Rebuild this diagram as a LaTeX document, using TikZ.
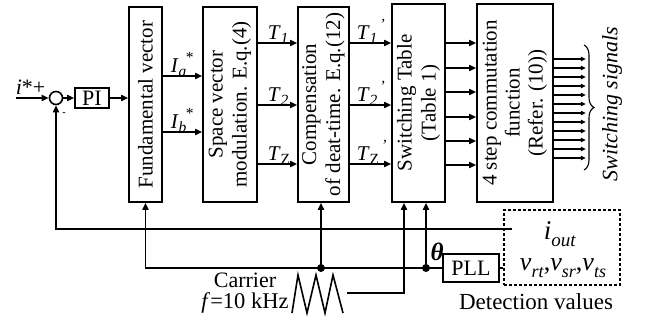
\documentclass[tikz,border=0pt]{standalone}
\usepackage{fontspec}
\setmainfont{Liberation Serif}
\usetikzlibrary{arrows.meta,decorations.pathreplacing}
\newcommand{\sbs}[1]{\raisebox{-0.22em}{\fontsize{15.5}{15.5}\selectfont #1}}
\newcommand{\sps}[1]{\raisebox{0.45em}{\fontsize{15.5}{15.5}\selectfont #1}}
\newcommand{\subsup}[3]{#1\sbs{#2}\kern-0.5pt\sps{#3}}
\begin{document}
\begin{tikzpicture}[x=1pt,y=-1pt,line width=1.6pt,
  font=\fontsize{21}{24}\selectfont,
  blk/.style={draw,inner sep=0pt},
  txt/.style={inner sep=0pt},
  arr/.style={-{Triangle[length=7pt,width=6pt]}},
  arrs/.style={-{Triangle[length=5pt,width=4.5pt]}},
  dot/.style={circle,fill,inner sep=0pt,minimum size=8pt}]
\useasboundingbox (0,0) rectangle (649,327);
% blocks
\node[blk,minimum width=33,minimum height=195] (fv) at (145.5,104.5) {};
\node[txt,rotate=90,align=center] at (fv) {Fundamental vector};
\node[blk,minimum width=54,minimum height=195] (sv) at (230,104.5) {};
\node[txt,rotate=90,align=center] at (sv) {Space vector\\modulation. E.q.(4)};
\node[blk,minimum width=51,minimum height=195] (cp) at (323.5,104.5) {};
\node[txt,rotate=90,align=center] at (cp) {Compensation\\of deat-time. E.q.(12)};
\node[blk,minimum width=53,minimum height=198] (st) at (418.5,103) {};
\node[txt,rotate=90,align=center] at (st) {Switching Table\\(Table 1)};
\node[blk,minimum width=76,minimum height=198] (fs) at (515,103) {};
\node[txt,rotate=90,align=center,font=\fontsize{21}{23}\selectfont] at (fs) {4 step commutation\\function\\(Refer. (10))};
% input side
\node[draw,circle,minimum size=13pt,inner sep=0pt] (sum) at (56,98) {};
\node[blk,minimum width=34,minimum height=20,font=\fontsize{22}{24}\selectfont] (pi) at (92,98) {PI};
\coordinate (in) at (16,98);
\node[txt,anchor=base west,font=\fontsize{22}{24}\selectfont] (lin) at (15,94) {\textit{i}*+};
\node[txt,font=\bfseries] (minus) at (64,114) {-};
\draw[arr] (in) -- (sum.west);
\draw[arr] (sum.east) -- (pi.west);
\draw[arr] (pi.east) -- (fv.west |- pi.east);
% Ia, Ib
\coordinate (ya) at (0,76); \coordinate (yb) at (0,132);
\draw[arr] (fv.east |- ya) -- (sv.west |- ya);
\draw[arr] (fv.east |- yb) -- (sv.west |- yb);
\node[txt,anchor=base west] (la) at (170,72) {\subsup{\textit{I}}{\textit{a}}{*}};
\node[txt,anchor=base west] (lb) at (170,128) {\subsup{\textit{I}}{\textit{b}}{*}};
% T arrows
\coordinate (y1) at (0,43); \coordinate (y2) at (0,105); \coordinate (y3) at (0,164);
\foreach \c in {y1,y2,y3}{
  \draw[arr] (sv.east |- \c) -- (cp.west |- \c);
  \draw[arr] (cp.east |- \c) -- (st.west |- \c);
}
\node[txt,anchor=base west] (t1) at (267,39) {\textit{T}\sbs{\textit{1}}};
\node[txt,anchor=base west] (t2) at (267,101) {\textit{T}\sbs{\textit{2}}};
\node[txt,anchor=base west] (tz) at (267,160) {\textit{T}\sbs{Z}};
\node[txt,anchor=base west] (t1p) at (356,39) {\subsup{\textit{T}}{\textit{1}}{\,\textit{'}}};
\node[txt,anchor=base west] (t2p) at (356,101) {\subsup{\textit{T}}{\textit{2}}{\,\textit{'}}};
\node[txt,anchor=base west] (tzp) at (356,160) {\subsup{\textit{T}}{Z}{\,\textit{'}}};
% switching table -> 4 step
\foreach \y in {43,68,92,117,141,165}{
  \path (0,\y) coordinate (tmp);
  \draw[arr] (st.east |- tmp) -- (fs.west |- tmp);
}
% outputs
\foreach \i in {0,...,11}{
  \path (0,59+9*\i) coordinate (tmp);
  \draw[arrs,line width=1.1pt] (fs.east |- tmp) -- ++(32,0);
}
\draw[line width=1.1pt,decorate,decoration={brace,amplitude=10pt}] (584,45) -- (584,170);
\node[txt,rotate=90,font=\fontsize{22}{23}\selectfont\itshape] (sw) at (612,104) {Switching signals};
% feedback and bottom lines
\coordinate (iout) at (512,229);
\draw[arr] (iout) -- (sum.south |- iout) -- (sum.south);
\node[blk,minimum width=56,minimum height=28,font=\fontsize{22}{24}\selectfont] (pll) at (471,268) {PLL};
\coordinate (j1) at (426,268);
\coordinate (j2) at (321,268);
\draw[arr] (pll.west) -- (fv.south |- pll.west) -- (fv.south);
\draw[arr] (j1) -- (j1 |- st.south);
\draw[arr] (j2) -- (j2 |- cp.south);
\node[dot] at (j1) {};
\node[dot] at (j2) {};
\node[txt,font=\fontsize{25}{25}\selectfont] (th) at (437,252) {\textbf{\textit{θ}}};
% carrier
\draw (292,313) -- (298,275) -- (307,313) -- (316,275) -- (325,313) -- (333,275) -- (343,313);
\coordinate (car) at (347,293);
\coordinate (c2) at (404,293);
\draw[arr] (car) -- (c2) -- (c2 |- st.south);
\node[txt,font=\fontsize{22}{24}\selectfont] (ct) at (245,280) {Carrier};
\node[txt,font=\fontsize{22.5}{24}\selectfont] (cf) at (245,303) {\textit{f}=10 kHz};
% detection box
\node[draw,densely dashed,line width=1.3pt,minimum width=116,minimum height=75,inner sep=0pt] (det) at (562,247.5) {};
\draw (pll.east) -- (det.west |- pll.east);
\node[txt,font=\fontsize{27}{27}\selectfont] (io) at (560,234) {\textit{i}\raisebox{-0.25em}{\fontsize{19}{19}\selectfont\textit{out}}};
\node[txt,font=\fontsize{26}{26}\selectfont] (vv) at (563,268) {\textit{v}\raisebox{-0.25em}{\fontsize{18}{18}\selectfont\textit{rt}},\textit{v}\raisebox{-0.25em}{\fontsize{18}{18}\selectfont\textit{sr}},\textit{v}\raisebox{-0.25em}{\fontsize{18}{18}\selectfont\textit{ts}}};
\node[txt,font=\fontsize{23}{24}\selectfont] (dv) at (536,302) {Detection values};
\end{tikzpicture}
\end{document}
